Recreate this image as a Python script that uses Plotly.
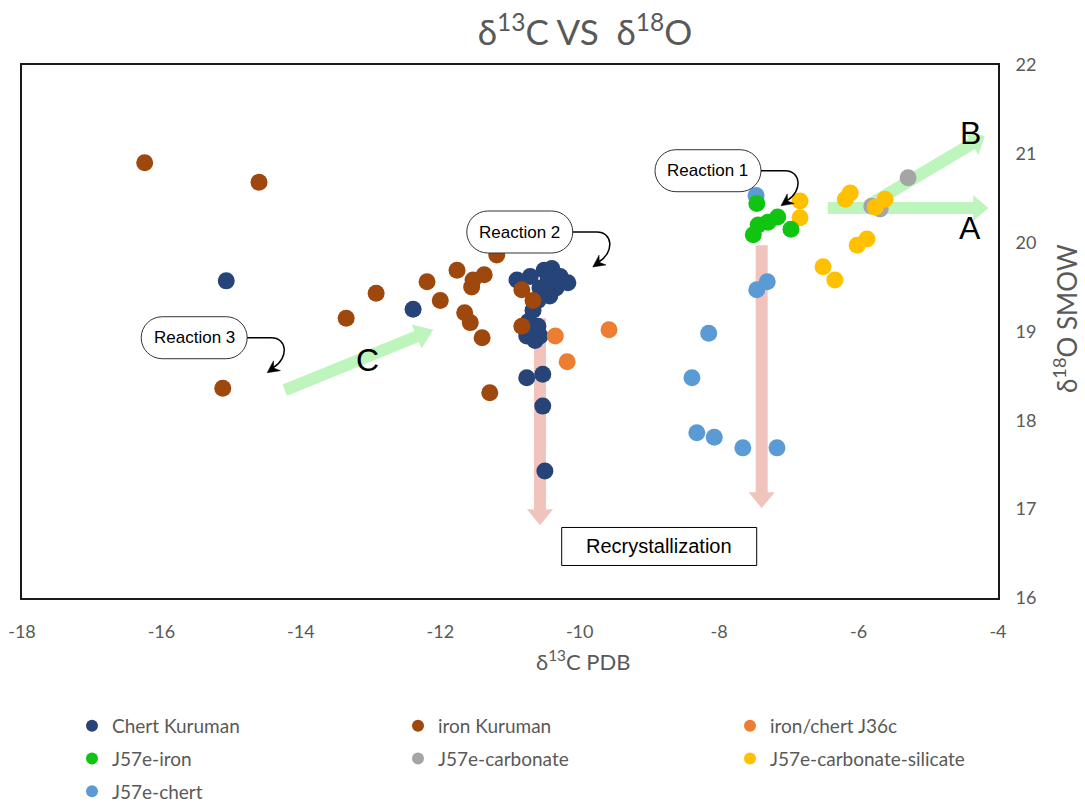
import math
import plotly.graph_objects as go

# ---------------- sample data: δ13C (PDB) vs δ18O (SMOW) ----------------
chert_kuruman_x = [-15.07, -12.39, -10.90, -10.71, -10.51, -10.40, -10.45, -10.28, -10.17,
                   -10.34, -10.57, -10.43, -10.60, -10.67, -10.74, -10.60, -10.76, -10.57,
                   -10.64, -10.76, -10.53, -10.53, -10.50]
chert_kuruman_y = [19.57, 19.25, 19.58, 19.62, 19.69, 19.71, 19.60, 19.62, 19.55,
                   19.49, 19.49, 19.40, 19.35, 19.24, 19.11, 19.06, 18.95, 18.95,
                   18.90, 18.48, 18.52, 18.16, 17.43]

iron_kuruman_x = [-16.24, -14.60, -15.12, -13.35, -12.92, -12.19, -12.00, -11.76, -11.65,
                  -11.57, -11.53, -11.55, -11.37, -11.40, -11.29, -11.19, -10.83, -10.67,
                  -10.83]
iron_kuruman_y = [20.90, 20.68, 18.36, 19.15, 19.43, 19.56, 19.35, 19.69, 19.21,
                  19.10, 19.58, 19.50, 19.64, 18.93, 18.31, 19.86, 19.47, 19.35,
                  19.06]

iron_chert_j36c_x = [-10.35, -10.18, -9.58]
iron_chert_j36c_y = [18.95, 18.66, 19.02]

j57e_iron_x = [-7.46, -7.44, -7.51, -7.30, -7.16, -6.97]
j57e_iron_y = [20.44, 20.20, 20.09, 20.23, 20.29, 20.15]

j57e_carbonate_x = [-5.29, -5.81, -5.69]
j57e_carbonate_y = [20.73, 20.41, 20.38]

j57e_carb_sil_x = [-6.12, -6.19, -5.62, -5.76, -5.88, -6.02, -6.51, -6.34, -6.84, -6.84]
j57e_carb_sil_y = [20.56, 20.49, 20.49, 20.40, 20.04, 19.97, 19.73, 19.58, 20.47, 20.28]

j57e_chert_x = [-7.47, -7.31, -7.46, -8.15, -8.39, -8.32, -8.07, -7.66, -7.17]
j57e_chert_y = [20.53, 19.56, 19.47, 18.98, 18.48, 17.86, 17.81, 17.69, 17.69]

x_ticks = [-18, -16, -14, -12, -10, -8, -6, -4]
y_ticks = [16, 17, 18, 19, 20, 21, 22]

# ---------------- layout geometry ----------------
W, H = 1085, 803
MARGIN = dict(l=22, r=87, t=65, b=205)
X_RANGE = (-18, -4)
Y_RANGE = (16, 22)
PW = W - MARGIN["l"] - MARGIN["r"]
PH = H - MARGIN["t"] - MARGIN["b"]
SX = PW / (X_RANGE[1] - X_RANGE[0])   # px per δ13C unit
SY = PH / (Y_RANGE[1] - Y_RANGE[0])   # px per δ18O unit

GRAY = "#595959"
TXT_FONT = "Lato, 'Open Sans', sans-serif"
BOX_FONT = "'Liberation Sans', Arial, sans-serif"


def to_px(x, y):
    return x * SX, -y * SY


def to_data(px, py):
    return px / SX, -py / SY


def path_from_px(points, close=True):
    parts = []
    for i, (px, py) in enumerate(points):
        x, y = to_data(px, py)
        parts.append(("M" if i == 0 else "L") + f"{x:.5f},{y:.5f}")
    return " ".join(parts) + (" Z" if close else "")


def block_arrow(x0, y0, x1, y1, shaft=6, head_w=13, head_len=16):
    """Filled straight arrow between two data points; widths in pixels."""
    p0 = to_px(x0, y0)
    p1 = to_px(x1, y1)
    dx, dy = p1[0] - p0[0], p1[1] - p0[1]
    L = math.hypot(dx, dy)
    ux, uy = dx / L, dy / L
    nx, ny = -uy, ux
    bx, by = p1[0] - ux * head_len, p1[1] - uy * head_len
    pts = [
        (p0[0] + nx * shaft, p0[1] + ny * shaft),
        (bx + nx * shaft, by + ny * shaft),
        (bx + nx * head_w, by + ny * head_w),
        p1,
        (bx - nx * head_w, by - ny * head_w),
        (bx - nx * shaft, by - ny * shaft),
        (p0[0] - nx * shaft, p0[1] - ny * shaft),
    ]
    return path_from_px(pts)


def fmt(px, py):
    x, y = to_data(px, py)
    return f"{x:.5f},{y:.5f}"


def stadium(cx, cy, w, h):
    """Rounded pill outline centred on a data point; size in pixels."""
    c = to_px(cx, cy)
    r = h / 2
    k = 0.5523 * r
    l, rt, t, b = c[0] - w / 2, c[0] + w / 2, c[1] - h / 2, c[1] + h / 2
    return (
        f"M{fmt(l + r, t)} L{fmt(rt - r, t)} "
        f"C{fmt(rt - r + k, t)} {fmt(rt, c[1] - k)} {fmt(rt, c[1])} "
        f"C{fmt(rt, c[1] + k)} {fmt(rt - r + k, b)} {fmt(rt - r, b)} "
        f"L{fmt(l + r, b)} "
        f"C{fmt(l + r - k, b)} {fmt(l, c[1] + k)} {fmt(l, c[1])} "
        f"C{fmt(l, c[1] - k)} {fmt(l + r - k, t)} {fmt(l + r, t)} Z"
    )


def hook_arrow(cx, cy, box_w):
    """Callout line leaving a pill to the right and hooking down-left."""
    c = to_px(cx, cy)
    sx, sy = c[0] + box_w / 2, c[1]
    curve = (f"M{fmt(sx, sy)} L{fmt(sx + 24, sy)} "
             f"C{fmt(sx + 40, sy)} {fmt(sx + 42, sy + 20)} {fmt(sx + 26, sy + 30)}")
    tx, ty = sx + 20, sy + 35
    dx, dy = -14.0, 10.0
    L = math.hypot(dx, dy)
    ux, uy = dx / L, dy / L
    nx, ny = -uy, ux
    head = [
        (tx, ty),
        (tx - ux * 12 + nx * 6, ty - uy * 12 + ny * 6),
        (tx - ux * 8, ty - uy * 8),
        (tx - ux * 12 - nx * 6, ty - uy * 12 - ny * 6),
    ]
    return curve, path_from_px(head)


fig = go.Figure()

# ---------------- data traces ----------------
series = [
    ("Chert Kuruman", chert_kuruman_x, chert_kuruman_y, "#264478"),
    ("iron Kuruman", iron_kuruman_x, iron_kuruman_y, "#9E480E"),
    ("iron/chert J36c", iron_chert_j36c_x, iron_chert_j36c_y, "#ED7D31"),
    ("J57e-chert", j57e_chert_x, j57e_chert_y, "#5B9BD5"),
    ("J57e-carbonate", j57e_carbonate_x, j57e_carbonate_y, "#A5A5A5"),
    ("J57e-carbonate-silicate", j57e_carb_sil_x, j57e_carb_sil_y, "#FFC000"),
    ("J57e-iron", j57e_iron_x, j57e_iron_y, "#12C412"),
]
colors = {name: col for name, _, _, col in series}
for name, xs, ys, col in series:
    fig.add_trace(go.Scatter(
        x=xs, y=ys, mode="markers", name=name, showlegend=False,
        marker=dict(size=17, color=col, line=dict(width=0)),
    ))

# ---------------- legend (three columns) ----------------
legend_columns = [
    ("legend", ["Chert Kuruman", "J57e-iron", "J57e-chert"]),
    ("legend2", ["iron Kuruman", "J57e-carbonate"]),
    ("legend3", ["iron/chert J36c", "J57e-carbonate-silicate"]),
]
for leg, names in legend_columns:
    for name in names:
        fig.add_trace(go.Scatter(
            x=[None], y=[None], mode="markers", name=name, legend=leg,
            legendgroup=name, showlegend=True,
            marker=dict(size=12, color=colors[name]),
        ))

# ---------------- decorations ----------------
shapes = []
PINK = "#F1C3BD"
LGREEN = "#BDF5BD"

# recrystallization trends (vertical)
shapes.append(dict(type="path", path=block_arrow(-10.57, 19.15, -10.57, 16.82, 6, 13, 16),
                   fillcolor=PINK, line=dict(width=0), layer="below"))
shapes.append(dict(type="path", path=block_arrow(-7.39, 19.97, -7.39, 17.01, 6, 13, 16),
                   fillcolor=PINK, line=dict(width=0), layer="below"))
# trends A, B, C
shapes.append(dict(type="path", path=block_arrow(-6.44, 20.39, -4.14, 20.39, 6, 13, 15),
                   fillcolor=LGREEN, line=dict(width=0), layer="below"))
shapes.append(dict(type="path", path=block_arrow(-5.88, 20.41, -4.19, 21.20, 6, 13, 15),
                   fillcolor=LGREEN, line=dict(width=0), layer="below"))
shapes.append(dict(type="path", path=block_arrow(-14.23, 18.34, -12.10, 19.02, 6, 13, 18),
                   fillcolor=LGREEN, line=dict(width=0), layer="below"))

annotations = []
reactions = [("Reaction 1", -8.16, 20.81), ("Reaction 2", -10.86, 20.12), ("Reaction 3", -15.53, 18.93)]
BOX_W, BOX_H = 106, 42
for label, cx, cy in reactions:
    shapes.append(dict(type="path", path=stadium(cx, cy, BOX_W, BOX_H),
                       fillcolor="white", line=dict(color="#333333", width=1), layer="above"))
    curve, head = hook_arrow(cx, cy, BOX_W)
    shapes.append(dict(type="path", path=curve, fillcolor="rgba(0,0,0,0)",
                       line=dict(color="black", width=1.5), layer="above"))
    shapes.append(dict(type="path", path=head, fillcolor="black",
                       line=dict(color="black", width=0.5), layer="above"))
    annotations.append(dict(x=cx, y=cy, xref="x", yref="y", text=label, showarrow=False,
                            font=dict(family=BOX_FONT, size=17, color="black")))

# recrystallization label box
rx, ry = -8.86, 16.58
rw, rh = 195, 38
x0, y0 = to_data(*(a + b for a, b in zip(to_px(rx, ry), (-rw / 2, rh / 2))))
x1, y1 = to_data(*(a + b for a, b in zip(to_px(rx, ry), (rw / 2, -rh / 2))))
shapes.append(dict(type="rect", x0=x0, y0=y0, x1=x1, y1=y1, xref="x", yref="y",
                   fillcolor="white", line=dict(color="black", width=1), layer="above"))
annotations.append(dict(x=rx, y=ry, xref="x", yref="y", text="Recrystallization",
                        showarrow=False, font=dict(family=BOX_FONT, size=20, color="black")))

for letter, lx, ly in [("A", -4.40, 20.17), ("B", -4.40, 21.23), ("C", -13.05, 18.68)]:
    annotations.append(dict(x=lx, y=ly, xref="x", yref="y", text=letter, showarrow=False,
                            font=dict(family=BOX_FONT, size=32, color="black")))

# axis titles
annotations.append(dict(x=(583 - MARGIN["l"]) / PW, y=1 - (660 - MARGIN["t"]) / PH,
                        xref="paper", yref="paper", xanchor="center", yanchor="middle",
                        text="δ<sup>13</sup>C PDB", showarrow=False,
                        font=dict(family=TXT_FONT, size=22, color=GRAY)))
annotations.append(dict(x=(1065 - MARGIN["l"]) / PW, y=1 - (319 - MARGIN["t"]) / PH,
                        xref="paper", yref="paper", xanchor="center", yanchor="middle",
                        textangle=-90, text="δ<sup>18</sup>O SMOW", showarrow=False,
                        font=dict(family=TXT_FONT, size=26, color=GRAY)))

legend_common = dict(orientation="v", xanchor="left", yanchor="top", bgcolor="rgba(0,0,0,0)",
                     font=dict(family=TXT_FONT, size=19, color=GRAY), tracegroupgap=5,
                     itemwidth=30)
leg_y = 1 - (707 - MARGIN["t"]) / PH

fig.update_layout(
    width=W, height=H,
    margin=dict(**MARGIN, autoexpand=False),
    paper_bgcolor="white", plot_bgcolor="white",
    title=dict(text="δ<sup>13</sup>C VS \u00a0δ<sup>18</sup>O", x=585 / W, xanchor="center",
               xref="container", y=1 - 33 / H, yanchor="middle", yref="container",
               font=dict(family=TXT_FONT, size=35, color=GRAY)),
    xaxis=dict(range=list(X_RANGE), tickvals=x_ticks, ticktext=[str(v) for v in x_ticks],
               showgrid=False, zeroline=False, showline=True, mirror=True,
               linecolor="#1a1a1a", linewidth=2, ticks="", ticklabelstandoff=16,
               tickfont=dict(family=TXT_FONT, size=18, color=GRAY)),
    yaxis=dict(range=list(Y_RANGE), tickvals=y_ticks, side="right",
               showgrid=False, zeroline=False, showline=True, mirror=True,
               linecolor="#1a1a1a", linewidth=2, ticks="", ticklabelstandoff=12,
               tickfont=dict(family=TXT_FONT, size=18, color=GRAY)),
    legend=dict(x=(72 - MARGIN["l"]) / PW, y=leg_y, **legend_common),
    legend2=dict(x=(398 - MARGIN["l"]) / PW, y=leg_y, **legend_common),
    legend3=dict(x=(730 - MARGIN["l"]) / PW, y=leg_y, **legend_common),
    shapes=shapes,
    annotations=annotations,
)

fig.write_html("out.html")
